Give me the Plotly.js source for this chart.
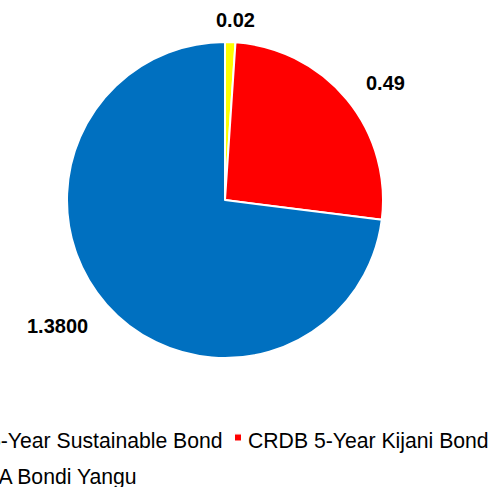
<!DOCTYPE html>
<html>
<head>
<meta charset="utf-8">
<script src="https://cdn.plot.ly/plotly-3.0.1.min.js"></script>
<style>
  html, body { margin: 0; padding: 0; overflow: hidden; background: #fff; width: 501px; height: 487px; }
  #chart { position: absolute; left: -110px; top: 0; width: 700px; height: 487px; }
  #chart .legendpie { transform: translate(30px, 0px) scale(0.6); }
</style>
</head>
<body>
<div id="chart"></div>
<script>
// ---- data ----
var bondNames = ["NMB 5-Year Sustainable Bond", "CRDB 5-Year Kijani Bond", "AZANIA Bondi Yangu"];
var bondValues = [0.02, 0.49, 1.38];
var valueLabels = ["0.02", "0.49", "1.3800"];
var sliceColors = ["#FFFF00", "#FF0000", "#0070C0"];

// ---- layout helpers ----
var W = 700, H = 487, SHIFT = 110;
function px(x) { return (x + SHIFT) / W; }
function py(y) { return 1 - y / H; }
var labelPos = [[235, 20], [385, 83], [57, 326]];

var trace = {
  type: "pie",
  labels: bondNames.map(function (n) { return "<span style='font-size:21.2px'>" + n + "</span>"; }),
  values: bondValues,
  sort: false,
  direction: "clockwise",
  rotation: 0,
  textinfo: "none",
  hoverinfo: "label+value",
  marker: { colors: sliceColors, line: { color: "#FFFFFF", width: 2 } },
  domain: { x: [px(67), px(383)], y: [py(358), py(42)] }
};

var annotations = valueLabels.map(function (t, i) {
  return {
    text: "<b>" + t + "</b>",
    x: px(labelPos[i][0]), y: py(labelPos[i][1]),
    xref: "paper", yref: "paper",
    xanchor: "center", yanchor: "middle",
    showarrow: false,
    font: { family: "Liberation Sans, Arial, sans-serif", size: 20, color: "#000" }
  };
});

var layout = {
  width: W, height: H,
  margin: { l: 0, r: 0, t: 0, b: 0, autoexpand: false },
  paper_bgcolor: "#FFFFFF",
  showlegend: true,
  legend: {
    orientation: "h",
    x: 6 / W, xanchor: "left",
    y: py(414), yanchor: "top",
    entrywidth: 267, entrywidthmode: "pixels",
    font: { family: "Liberation Sans, Arial, sans-serif", size: 26, color: "#000" },
    traceorder: "normal"
  },
  annotations: annotations,
  font: { family: "Liberation Sans, Arial, sans-serif" }
};

Plotly.newPlot("chart", [trace], layout, { displayModeBar: false, staticPlot: true });
</script>
</body>
</html>
